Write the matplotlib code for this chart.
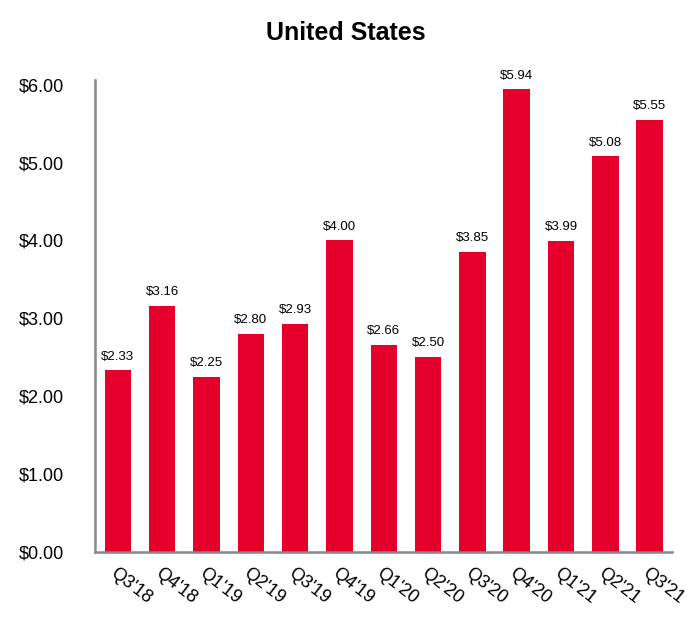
import matplotlib
matplotlib.use('Agg')
import matplotlib.pyplot as plt
import numpy as np

quarters = ["Q3'18", "Q4'18", "Q1'19", "Q2'19", "Q3'19", "Q4'19", "Q1'20",
            "Q2'20", "Q3'20", "Q4'20", "Q1'21", "Q2'21", "Q3'21"]
values = [2.33, 3.16, 2.25, 2.80, 2.93, 4.00, 2.66, 2.50, 3.85, 5.94, 3.99, 5.08, 5.55]
yticks = [0, 1, 2, 3, 4, 5, 6]

plt.rcParams['font.family'] = ['Liberation Sans', 'DejaVu Sans']

fig = plt.figure(figsize=(6.92, 6.30), dpi=100)
ax = fig.add_axes([0.137, 0.124, 0.834, 0.749])

x = np.arange(len(quarters))
bars = ax.bar(x, values, width=0.6, color='#E4002B')

for xi, v in zip(x, values):
    ax.text(xi, v + 0.1, '$%.2f' % v, ha='center', va='bottom', fontsize=9.5)

ax.set_xlim(-0.52, len(quarters) - 0.5)
ax.set_ylim(0, 6.06)
ax.set_yticks(yticks)
ax.set_yticklabels(['$%.2f' % t for t in yticks], fontsize=13)
ax.set_xticks(x)
ax.set_xticklabels(quarters, rotation=-38, ha='left', va='top',
                   rotation_mode='anchor', fontsize=13)
ax.tick_params(axis='y', length=0, pad=22)
ax.tick_params(axis='x', length=0, pad=9)

for s in ['top', 'right']:
    ax.spines[s].set_visible(False)
for s in ['left', 'bottom']:
    ax.spines[s].set_color('#888888')
    ax.spines[s].set_linewidth(1.8)

fig.text(0.5, 0.948, 'United States', ha='center', va='center',
         fontsize=18, fontweight='bold')

fig.savefig('out.png', dpi=100)
